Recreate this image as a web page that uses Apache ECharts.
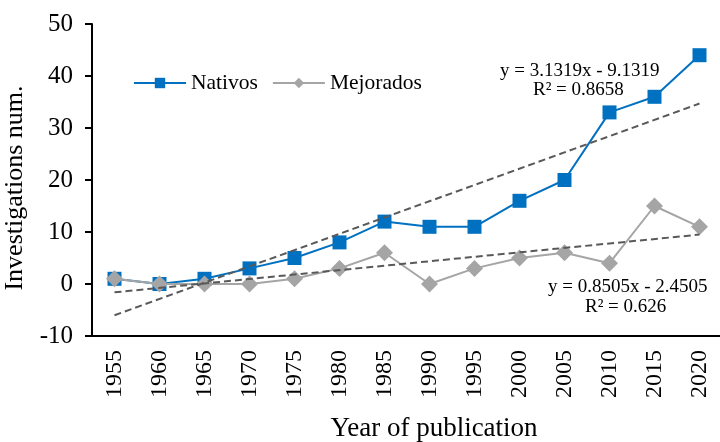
<!DOCTYPE html>
<html>
<head>
<meta charset="utf-8">
<script src="https://cdn.jsdelivr.net/npm/echarts@6/dist/echarts.min.js"></script>
<style>
  html, body { margin: 0; padding: 0; background: #fff; }
  #chart { width: 720px; height: 442px; }
</style>
</head>
<body>
<div id="chart"></div>
<script>
// datos
const years = ['1955','1960','1965','1970','1975','1980','1985','1990','1995','2000','2005','2010','2015','2020'];
const nativos = [1, 0, 1, 3, 5, 8, 12, 11, 11, 16, 20, 33, 36, 44];
const mejorados = [1, 0, 0, 0, 1, 3, 6, 0, 3, 5, 6, 4, 15, 11];
// lineas de tendencia: valor en la primera y la ultima categoria
const trendNativos = [-6.0, 34.7];
const trendMejorados = [-1.6, 9.5];
const yTicks = [-10, 0, 10, 20, 30, 40, 50];

const serif = 'Liberation Serif';
const chart = echarts.init(document.getElementById('chart'));

function trendData(ends) {
  return [[0, ends[0]], [years.length - 1, ends[1]]];
}

const option = {
  animation: false,
  textStyle: { fontFamily: serif, color: '#000' },
  grid: { left: 92, top: 24, width: 630, height: 312, containLabel: false, outerBoundsMode: 'none' },
  legend: {
    left: 133, top: 72, padding: 0,
    itemWidth: 52, itemHeight: 13, itemGap: 14,
    textStyle: { fontFamily: serif, fontSize: 21.5, color: '#000' },
    data: ['Nativos', 'Mejorados']
  },
  xAxis: {
    type: 'category',
    data: years,
    boundaryGap: true,
    name: 'Year of publication',
    nameLocation: 'middle',
    nameGap: 79,
    nameTextStyle: { fontFamily: serif, fontSize: 27, color: '#000', padding: [0, 0, 0, 54] },
    axisLine: { onZero: false, lineStyle: { color: '#000', width: 2 } },
    axisTick: { alignWithLabel: false, length: 7, lineStyle: { color: '#000', width: 2 } },
    axisLabel: { rotate: 90, fontFamily: serif, fontSize: 24, color: '#000', margin: 14 }
  },
  yAxis: {
    type: 'value',
    min: yTicks[0],
    max: yTicks[yTicks.length - 1],
    interval: 10,
    name: 'Investigations num.',
    nameLocation: 'middle',
    nameGap: 64,
    nameTextStyle: { fontFamily: serif, fontSize: 26, color: '#000', padding: [0, 16, 0, 0] },
    splitLine: { show: false },
    axisLine: { show: true, lineStyle: { color: '#000', width: 2 } },
    axisTick: { show: true, length: 7, lineStyle: { color: '#000', width: 2 } },
    axisLabel: { fontFamily: serif, fontSize: 25, color: '#000', margin: 19 }
  },
  series: [
    {
      name: 'Nativos', type: 'line', data: nativos,
      symbol: 'rect', symbolSize: 14, z: 2,
      itemStyle: { color: '#0070C0' },
      lineStyle: { color: '#0070C0', width: 2 }
    },
    {
      name: 'Mejorados', type: 'line', data: mejorados,
      symbol: 'diamond', symbolSize: 17, z: 3,
      itemStyle: { color: '#A5A5A5' },
      lineStyle: { color: '#A5A5A5', width: 2 }
    },
    {
      name: 'Nativos trend', type: 'line', data: trendData(trendNativos),
      symbol: 'none', z: 4,
      lineStyle: { color: '#595959', width: 2, type: [7, 4] }
    },
    {
      name: 'Mejorados trend', type: 'line', data: trendData(trendMejorados),
      symbol: 'none', z: 4,
      lineStyle: { color: '#595959', width: 2, type: [7, 4] }
    }
  ],
  graphic: [
    { type: 'text', left: 500, top: 62, style: { text: 'y = 3.1319x - 9.1319', font: '19px "Liberation Serif"', fill: '#000' } },
    { type: 'text', left: 533, top: 81, style: { text: 'R² = 0.8658', font: '19px "Liberation Serif"', fill: '#000' } },
    { type: 'text', left: 548, top: 278, style: { text: 'y = 0.8505x - 2.4505', font: '19px "Liberation Serif"', fill: '#000' } },
    { type: 'text', left: 585, top: 298, style: { text: 'R² = 0.626', font: '19px "Liberation Serif"', fill: '#000' } }
  ]
};

chart.setOption(option);
window.addEventListener('resize', () => chart.resize());
</script>
</body>
</html>
